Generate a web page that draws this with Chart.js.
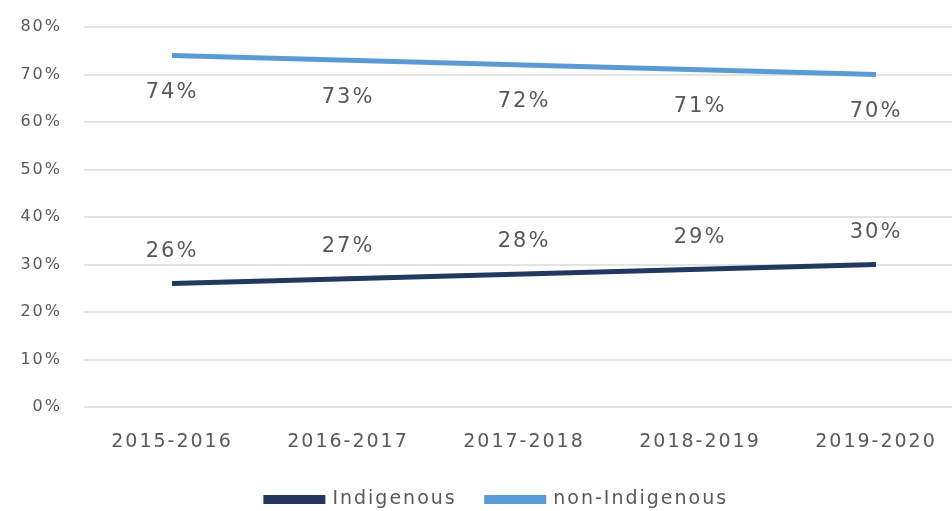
<!DOCTYPE html>
<html>
<head>
<meta charset="utf-8">
<script src="https://cdn.jsdelivr.net/npm/chart.js@4.4.0/dist/chart.umd.min.js"></script>
<style>
    body { margin: 0; background: #fff; overflow: hidden; }
    #wrap { width: 994px; height: 511px; }
</style>
</head>
<body>
<div id="wrap"><canvas id="shareChart"></canvas></div>
<script>
const years = ['2015-2016', '2016-2017', '2017-2018', '2018-2019', '2019-2020'];
const indigenous = [26, 27, 28, 29, 30];
const nonIndigenous = [74, 73, 72, 71, 70];
const yTicks = [0, 10, 20, 30, 40, 50, 60, 70, 80];

const textColor = '#595959';

// wider text, the source picture is stretched sideways
const spacingPlugin = {
    id: 'spacing',
    beforeUpdate(chart) { chart.ctx.letterSpacing = '2px'; },
    beforeDraw(chart) { chart.ctx.letterSpacing = '2px'; }
};

const valueLabels = {
    id: 'valueLabels',
    afterDatasetsDraw(chart) {
        const ctx = chart.ctx;
        ctx.save();
        ctx.font = '21px "DejaVu Sans"';
        ctx.fillStyle = textColor;
        ctx.textAlign = 'center';
        ctx.textBaseline = 'middle';
        chart.data.datasets.forEach((ds, i) => {
            const offset = i === 0 ? -32 : 37;
            chart.getDatasetMeta(i).data.forEach((pt, j) => {
                ctx.fillText(ds.data[j] + '%', pt.x, pt.y + offset);
            });
        });
        ctx.restore();
    }
};

const ctx = document.getElementById('shareChart').getContext('2d');
new Chart(ctx, {
    type: 'line',
    data: {
        labels: years,
        datasets: [{
            label: 'Indigenous',
            data: indigenous,
            borderColor: '#22385e',
            backgroundColor: '#22385e',
            borderWidth: 5,
            pointRadius: 0,
            tension: 0
        }, {
            label: 'non-Indigenous',
            data: nonIndigenous,
            borderColor: '#5b9bd5',
            backgroundColor: '#5b9bd5',
            borderWidth: 5,
            pointRadius: 0,
            tension: 0
        }]
    },
    options: {
        responsive: true,
        maintainAspectRatio: false,
        animation: false,
        layout: { padding: { top: 27, left: 0, right: 0, bottom: -8 } },
        plugins: {
            tooltip: { enabled: false },
            legend: {
                position: 'bottom',
                labels: {
                    color: textColor,
                    boxWidth: 57,
                    boxHeight: 4,
                    padding: 30,
                    font: { family: 'DejaVu Sans', size: 19 }
                }
            }
        },
        scales: {
            x: {
                offset: true,
                border: { display: false },
                grid: { display: false },
                ticks: {
                    color: textColor,
                    padding: 16,
                    maxRotation: 0,
                    font: { family: 'DejaVu Sans', size: 19 }
                },
                afterFit: s => { s.height = 53; }
            },
            y: {
                min: 0,
                max: 80,
                border: { display: false },
                grid: { color: '#e3e3e3', lineWidth: 2, drawTicks: false },
                afterBuildTicks: s => { s.ticks = yTicks.map(v => ({ value: v })); },
                ticks: {
                    color: textColor,
                    padding: 22,
                    callback: v => v + '%',
                    font: { family: 'DejaVu Sans', size: 16 }
                },
                afterFit: s => {
                    s.width = 84;
                    s.paddingTop = 0;
                    s.paddingBottom = 0;
                }
            },
            // empty strip on the right so the legend sits where the source has it
            yRight: {
                position: 'right',
                border: { display: false },
                grid: { display: false, drawTicks: false },
                ticks: { display: false },
                afterFit: s => {
                    s.width = 30;
                    s.paddingTop = 0;
                    s.paddingBottom = 0;
                }
            }
        }
    },
    plugins: [spacingPlugin, valueLabels]
});
</script>
</body>
</html>
